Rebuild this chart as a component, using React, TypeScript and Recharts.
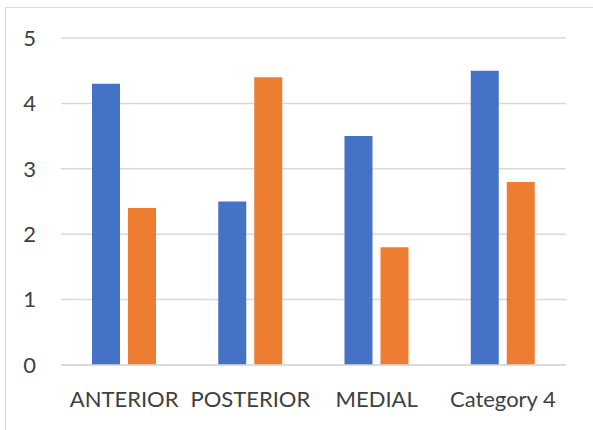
import React from 'react';
import { BarChart, Bar, XAxis, YAxis, CartesianGrid } from 'recharts';

const categories = ['ANTERIOR', 'POSTERIOR', 'MEDIAL', 'Category 4'];
const series1 = [4.3, 2.5, 3.5, 4.5];
const series2 = [2.4, 4.4, 1.8, 2.8];
const yTicks = [0, 1, 2, 3, 4, 5];

const data = categories.map((name, i) => ({ name, s1: series1[i], s2: series2[i] }));

const FONT = 'Lato, "Open Sans", sans-serif';
const TEXT = '#404040';
const GRID = '#d9d9d9';

const App: React.FC = () => {
  return (
    <div style={{ position: 'absolute', left: 0, top: 0, width: 593, height: 430, background: '#fff', overflow: 'hidden' }}>
      <div style={{ position: 'absolute', left: 5, top: 7, width: 620, height: 460, border: `1px solid ${GRID}`, boxSizing: 'border-box' }} />
      <div style={{ position: 'absolute', left: 0, top: 0 }}>
        <BarChart
          width={593}
          height={430}
          data={data}
          margin={{ top: 38, right: 27, left: 0, bottom: 0 }}
          barCategoryGap={31}
          barGap={8}
        >
          <CartesianGrid vertical={false} stroke={GRID} strokeWidth={1.5} />
          <XAxis
            dataKey="name"
            height={65}
            axisLine={{ stroke: GRID, strokeWidth: 1.5 }}
            tickLine={false}
            tickSize={0}
            tickMargin={26}
            tick={{ fill: TEXT, fontSize: 22, fontFamily: FONT }}
            interval={0}
          />
          <YAxis
            width={61}
            domain={[0, 5]}
            ticks={yTicks}
            axisLine={false}
            tickLine={false}
            tickSize={0}
            tickMargin={25}
            tick={{ fill: TEXT, fontSize: 22, fontFamily: FONT }}
          />
          <Bar dataKey="s1" fill="#4472C4" isAnimationActive={false} />
          <Bar dataKey="s2" fill="#ED7D31" isAnimationActive={false} />
        </BarChart>
      </div>
    </div>
  );
};

export default App;
